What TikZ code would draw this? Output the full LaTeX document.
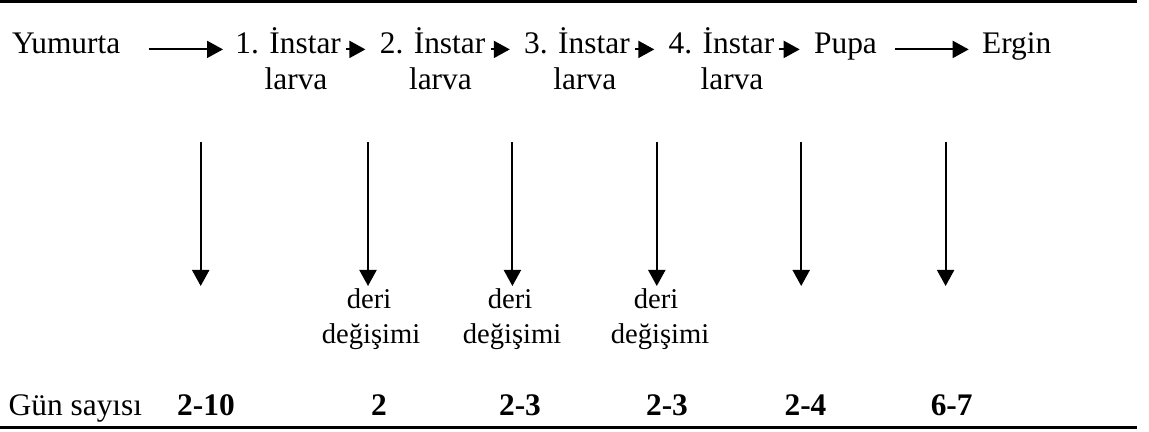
\documentclass[tikz,border=0pt]{standalone}
\usepackage{fontspec}
\setmainfont{Liberation Serif}
\usetikzlibrary{arrows.meta}
\begin{document}
\begin{tikzpicture}[x=0.5pt, y=-0.5pt, >={Triangle[length=8pt, width=8.5pt]}, font=\fontsize{15.7}{18}\selectfont]
	\tikzset{stage/.style={anchor=base west, inner sep=0pt},
		sub/.style={anchor=base, inner sep=0pt},
		moult/.style={anchor=base, inner sep=0pt, font=\fontsize{14.3}{17}\selectfont},
		days/.style={anchor=base, inner sep=0pt, font=\fontsize{15.7}{18}\selectfont\bfseries},
		flow/.style={->, line width=1pt},
		rule/.style={line width=1.5pt}}
	\useasboundingbox (0,0) rectangle (1149,432);
	% rules
	\coordinate (tl) at (0,2); \coordinate (tr) at (1137,2);
	\coordinate (bl) at (0,427); \coordinate (br) at (1137,427);
	\draw[rule] (tl) -- (tr);
	\draw[rule] (bl) -- (br);
	% stages
	\node[stage] (egg) at (11.7,54) {Yumurta};
	\node[stage] (i1) at (235,54) {1. İnstar};
	\node[stage] (i2) at (379.4,54) {2. İnstar};
	\node[stage] (i3) at (523.8,54) {3. İnstar};
	\node[stage] (i4) at (668.3,54) {4. İnstar};
	\node[stage] (pupa) at (813.7,54) {Pupa};
	\node[stage] (adult) at (981.7,54) {Ergin};
	\node[sub] (l1) at (296,89.3) {larva};
	\node[sub] (l2) at (440.4,89.3) {larva};
	\node[sub] (l3) at (584.8,89.3) {larva};
	\node[sub] (l4) at (732,89.3) {larva};
	\draw[flow, shorten <=14pt, shorten >=6pt] (egg.mid east) -- (i1.mid west);
	\draw[flow, shorten <=2.4pt, shorten >=7pt] (i1.mid east) -- (i2.mid west);
	\draw[flow, shorten <=2.4pt, shorten >=7pt] (i2.mid east) -- (i3.mid west);
	\draw[flow, shorten <=2.4pt, shorten >=7pt] (i3.mid east) -- (i4.mid west);
	\draw[flow, shorten <=2.4pt, shorten >=7pt] (i4.mid east) -- (pupa.mid west);
	\draw[flow, shorten <=9pt, shorten >=6.5pt] (pupa.mid east) -- (adult.mid west);
	% downward arrows
	\coordinate (v1) at (200.7,142); \coordinate (w1) at (200.7,286);
	\coordinate (v2) at (368,142); \coordinate (w2) at (368,286);
	\coordinate (v3) at (512.4,142); \coordinate (w3) at (512.4,286);
	\coordinate (v4) at (656.8,142); \coordinate (w4) at (656.8,286);
	\coordinate (v5) at (801.2,142); \coordinate (w5) at (801.2,286);
	\coordinate (v6) at (945.6,142); \coordinate (w6) at (945.6,286);
	\draw[flow] (v1) -- (w1);
	\draw[flow] (v2) -- (w2);
	\draw[flow] (v3) -- (w3);
	\draw[flow] (v4) -- (w4);
	\draw[flow] (v5) -- (w5);
	\draw[flow] (v6) -- (w6);
	% moults
	\node[moult] (d1) at (369,308.3) {deri};
	\node[moult] (dd1) at (371,343.3) {değişimi};
	\node[moult] (d2) at (510,308.3) {deri};
	\node[moult] (dd2) at (512,343.3) {değişimi};
	\node[moult] (d3) at (656,308.3) {deri};
	\node[moult] (dd3) at (660,343.3) {değişimi};
	% days
	\node[stage] (gun) at (8.3,415) {Gün sayısı};
	\node[days] (n1) at (206,415) {2-10};
	\node[days] (n2) at (379,415) {2};
	\node[days] (n3) at (520,415) {2-3};
	\node[days] (n4) at (667,415) {2-3};
	\node[days] (n5) at (805.5,415) {2-4};
	\node[days] (n6) at (951.7,415) {6-7};
\end{tikzpicture}
\end{document}
